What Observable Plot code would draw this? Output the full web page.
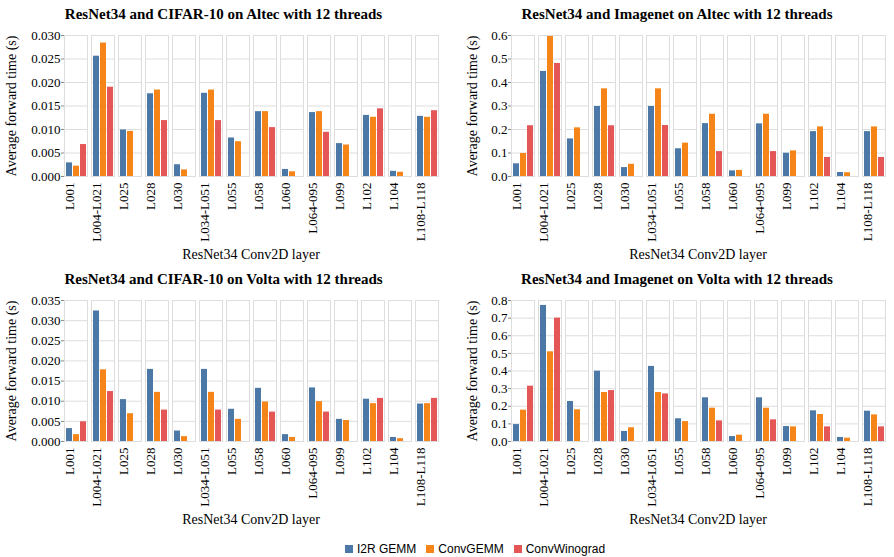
<!DOCTYPE html>
<html>
<head>
<meta charset="utf-8">
<script src="https://cdn.jsdelivr.net/npm/d3@7"></script>
<script src="https://cdn.jsdelivr.net/npm/@observablehq/plot@0.6"></script>
<style>
  body { margin: 0; background: #fff; }
  #fig { position: relative; width: 894px; height: 557px; overflow: hidden; font-family: "Liberation Serif", serif; color: #000; }
  .panel { position: absolute; width: 447px; height: 262px; }
  .panel svg { overflow: visible; }
  .panel svg text { font-family: "Liberation Serif", serif !important; font-size: 13px !important; }
  .title { position: absolute; font-weight: bold; font-size: 15px; line-height: 15px; white-space: nowrap; transform: translateX(-50%); }
  .xtitle { position: absolute; font-size: 14px; line-height: 14px; white-space: nowrap; transform: translateX(-50%); }
  .ytitle { position: absolute; font-size: 14px; line-height: 14px; white-space: nowrap; transform: translate(-50%, -50%) rotate(-90deg); }
  #legend { position: absolute; left: 345px; top: 541px; display: flex; gap: 10px; font-family: "Liberation Sans", Arial, sans-serif; font-size: 12px; line-height: 16px; }
  #legend .item { display: flex; align-items: center; gap: 4px; }
  #legend .sw { width: 8px; height: 8px; }
</style>
</head>
<body>
<div id="fig"></div>
<script>
// Conv2D layers of ResNet34 (one facet cell each)
const layers = ["L001", "L004-L021", "L025", "L028", "L030", "L034-L051", "L055", "L058", "L060", "L064-095", "L099", "L102", "L104", "L108-L118"];
const methods = ["I2R GEMM", "ConvGEMM", "ConvWinograd"];
const colors = ["#4c78a8", "#f58518", "#e45756"];

// Average forward time (s); null = Winograd not applicable to the layer
const altecCifarI2R      = [0.0029, 0.0256, 0.0099, 0.0176, 0.0025, 0.0177, 0.0082, 0.0138, 0.0015, 0.0136, 0.0070, 0.0130, 0.0011, 0.0128];
const altecCifarConvGemm = [0.0022, 0.0284, 0.0096, 0.0184, 0.0014, 0.0184, 0.0074, 0.0138, 0.0010, 0.0138, 0.0067, 0.0126, 0.0009, 0.0126];
const altecCifarWinograd = [0.0068, 0.0190, null, 0.0119, null, 0.0119, null, 0.0104, null, 0.0094, null, 0.0144, null, 0.0140];

const altecImagenetI2R      = [0.054, 0.447, 0.160, 0.298, 0.038, 0.298, 0.118, 0.225, 0.024, 0.224, 0.099, 0.191, 0.017, 0.191];
const altecImagenetConvGemm = [0.098, 0.596, 0.207, 0.373, 0.052, 0.373, 0.142, 0.265, 0.026, 0.265, 0.109, 0.211, 0.016, 0.211];
const altecImagenetWinograd = [0.216, 0.481, null, 0.216, null, 0.217, null, 0.106, null, 0.106, null, 0.081, null, 0.081];

const voltaCifarI2R      = [0.0032, 0.0324, 0.0104, 0.0179, 0.0026, 0.0179, 0.0080, 0.0132, 0.0017, 0.0133, 0.0055, 0.0105, 0.0010, 0.0093];
const voltaCifarConvGemm = [0.0017, 0.0178, 0.0069, 0.0122, 0.0012, 0.0122, 0.0055, 0.0098, 0.0010, 0.0099, 0.0052, 0.0094, 0.0007, 0.0094];
const voltaCifarWinograd = [0.0049, 0.0124, null, 0.0078, null, 0.0078, null, 0.0073, null, 0.0073, null, 0.0107, null, 0.0107];

const voltaImagenetI2R      = [0.096, 0.772, 0.227, 0.399, 0.057, 0.426, 0.129, 0.248, 0.028, 0.248, 0.085, 0.174, 0.023, 0.172];
const voltaImagenetConvGemm = [0.178, 0.509, 0.180, 0.278, 0.078, 0.278, 0.113, 0.189, 0.036, 0.189, 0.083, 0.153, 0.019, 0.151];
const voltaImagenetWinograd = [0.314, 0.700, null, 0.289, null, 0.270, null, 0.117, null, 0.123, null, 0.083, null, 0.083];

// y-axis ticks
const cifarAltecTicks    = [0, 0.005, 0.010, 0.015, 0.020, 0.025, 0.030];
const imagenetAltecTicks = [0, 0.1, 0.2, 0.3, 0.4, 0.5, 0.6];
const cifarVoltaTicks    = [0, 0.005, 0.010, 0.015, 0.020, 0.025, 0.030, 0.035];
const imagenetVoltaTicks = [0, 0.1, 0.2, 0.3, 0.4, 0.5, 0.6, 0.7, 0.8];

const panels = [
  {title: "ResNet34 and CIFAR-10 on Altec with 12 threads", series: [altecCifarI2R, altecCifarConvGemm, altecCifarWinograd], ticks: cifarAltecTicks, fmt: ".3f", left: 0, top: 0},
  {title: "ResNet34 and Imagenet on Altec with 12 threads", series: [altecImagenetI2R, altecImagenetConvGemm, altecImagenetWinograd], ticks: imagenetAltecTicks, fmt: ".1f", left: 447, top: 0},
  {title: "ResNet34 and CIFAR-10 on Volta with 12 threads", series: [voltaCifarI2R, voltaCifarConvGemm, voltaCifarWinograd], ticks: cifarVoltaTicks, fmt: ".3f", left: 0, top: 265},
  {title: "ResNet34 and Imagenet on Volta with 12 threads", series: [voltaImagenetI2R, voltaImagenetConvGemm, voltaImagenetWinograd], ticks: imagenetVoltaTicks, fmt: ".1f", left: 447, top: 265}
];

const fig = document.getElementById("fig");
const W = 447, H = 262, mL = 58, mR = 3, mT = 35, mB = 86;

function addText(cls, text, left, top) {
  const d = document.createElement("div");
  d.className = cls;
  d.textContent = text;
  d.style.left = left + "px";
  d.style.top = top + "px";
  fig.appendChild(d);
}

for (const p of panels) {
  const rows = [];
  layers.forEach((layer, i) => {
    methods.forEach((method, j) => {
      const v = p.series[j][i];
      if (v != null) rows.push({layer, method, time: v});
    });
  });

  const chart = Plot.plot({
    width: W, height: H,
    marginLeft: mL, marginRight: mR, marginTop: mT, marginBottom: mB,
    style: {fontFamily: "'Liberation Serif', serif", fontSize: "13px", color: "#000", background: "transparent", overflow: "visible"},
    fx: {domain: layers, paddingInner: 0.16, paddingOuter: 0, label: null},
    x: {domain: methods, padding: 0.2, axis: null},
    y: {domain: [0, p.ticks[p.ticks.length - 1]], label: null},
    color: {domain: methods, range: colors},
    marks: [
      Plot.frame({stroke: "#ddd", strokeOpacity: 1}),
      Plot.gridY(p.ticks, {stroke: "#ddd", strokeOpacity: 1}),
      Plot.barY(rows, {fx: "layer", x: "method", y: "time", fill: "method"}),
      Plot.axisY(p.ticks, {tickFormat: d3.format(p.fmt), tickSize: 3, tickPadding: 1, stroke: "#888", fill: "#000", label: null}),
      Plot.axisFx({anchor: "bottom", tickRotate: -90, tickSize: 0, tickPadding: 6, dx: -6, fill: "#000", label: null})
    ]
  });

  const wrap = document.createElement("div");
  wrap.className = "panel";
  wrap.style.left = p.left + "px";
  wrap.style.top = p.top + "px";
  wrap.appendChild(chart);
  fig.appendChild(wrap);

  const plotCx = p.left + mL + (W - mL - mR) / 2;
  addText("title", p.title, p.left + (p.left ? 230 : 223.5), p.top + 7);
  addText("xtitle", "ResNet34 Conv2D layer", plotCx, p.top + 247.5);
  addText("ytitle", "Average forward time (s)", p.left + (p.left ? 26 : 12), p.top + mT + (H - mT - mB) / 2);
}

// legend
const legend = document.createElement("div");
legend.id = "legend";
methods.forEach((m, i) => {
  const item = document.createElement("div");
  item.className = "item";
  const sw = document.createElement("div");
  sw.className = "sw";
  sw.style.background = colors[i];
  const label = document.createElement("span");
  label.textContent = m;
  item.appendChild(sw);
  item.appendChild(label);
  legend.appendChild(item);
});
fig.appendChild(legend);
</script>
</body>
</html>
